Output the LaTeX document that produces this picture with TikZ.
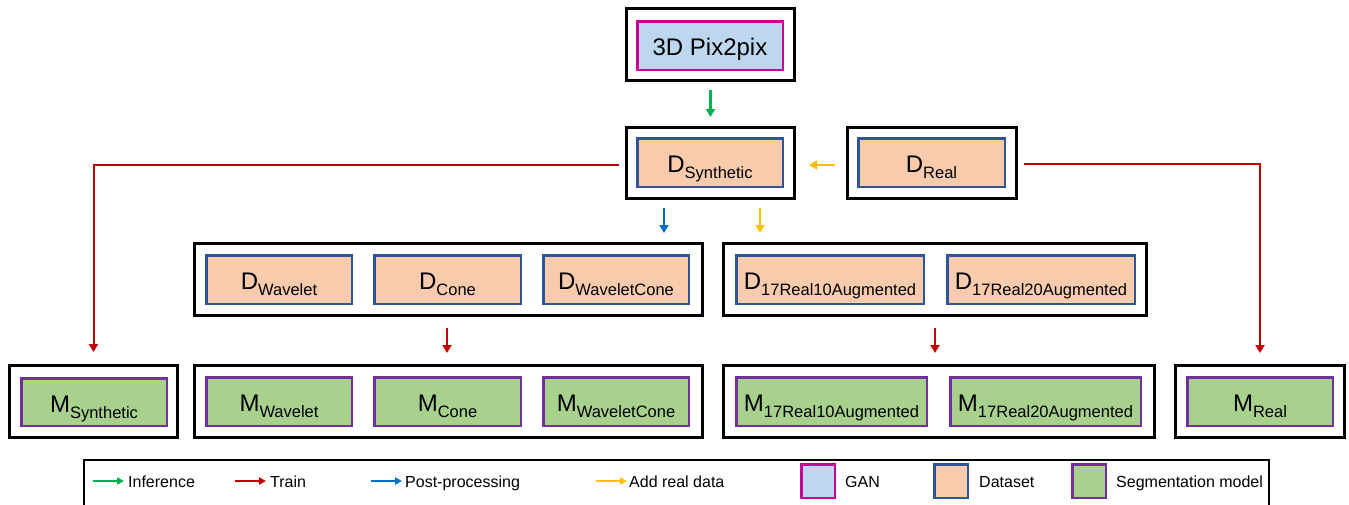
\documentclass[tikz,border=0pt]{standalone}
\usepackage{fontspec}
\setmainfont{Liberation Sans}
\usetikzlibrary{arrows.meta}
\definecolor{ganfill}{HTML}{BDD7EE}
\definecolor{ganedge}{HTML}{CC0099}
\definecolor{dsfill}{HTML}{F8CBAD}
\definecolor{dsedge}{HTML}{2F5597}
\definecolor{segfill}{HTML}{A9D18E}
\definecolor{segedge}{HTML}{7030A0}
\definecolor{cgreen}{HTML}{00B050}
\definecolor{cred}{HTML}{C00000}
\definecolor{cblue}{HTML}{0070C0}
\definecolor{cyellow}{HTML}{FFC000}
\newcommand\lowtxt[1]{\raisebox{-6pt}{\fontsize{16.5}{18}\selectfont #1}}
\tikzset{
  outerbox/.style={draw=black, line width=2.6pt, rectangle, minimum height=72.4pt, inner sep=0pt},
  innerbox/.style={rectangle, line width=2.5pt, minimum height=48.5pt, minimum width=145.5pt,
     inner sep=0pt, text height=22pt, text depth=2pt, font=\fontsize{24}{28}\selectfont},
  ganbox/.style={innerbox, draw=ganedge, fill=ganfill},
  dsbox/.style={innerbox, draw=dsedge, fill=dsfill},
  segbox/.style={innerbox, draw=segedge, fill=segfill},
  arr/.style={line width=2.2pt, -{Triangle[width=9pt,length=8pt]}},
  inferarr/.style={arr, draw=cgreen, color=cgreen},
  trainarr/.style={arr, draw=cred, color=cred},
  postarr/.style={arr, draw=cblue, color=cblue},
  addarr/.style={arr, draw=cyellow, color=cyellow},
  legarr/.style={line width=2pt, -{Triangle[width=7pt,length=7pt]}},
  legtext/.style={anchor=base west, inner sep=0pt, font=\fontsize{16}{18}\selectfont},
  legbox/.style={rectangle, line width=2.5pt, minimum width=33.5pt, minimum height=33.5pt, inner sep=0pt},
}
\begin{document}
\begin{tikzpicture}[x=1pt,y=-1pt]
\useasboundingbox (0,0) rectangle (1349,504);
% outer boxes
\node[outerbox, minimum width=168.4pt] (pixO) at (710.5,44.5) {};
\node[outerbox, minimum width=168.4pt, minimum height=71.4pt] (dsynO) at (710.5,163) {};
\node[outerbox, minimum width=169.4pt, minimum height=71.4pt] (drealO) at (932,163) {};
\node[outerbox, minimum width=508.4pt] (d2lO) at (448.5,279.5) {};
\node[outerbox, minimum width=423.4pt] (d2rO) at (935,279.5) {};
\node[outerbox, minimum width=168.4pt] (msynO) at (93.5,401.5) {};
\node[outerbox, minimum width=508.4pt] (m3lO) at (448.5,401.5) {};
\node[outerbox, minimum width=431.4pt] (m3rO) at (939,401.5) {};
\node[outerbox, minimum width=169.4pt] (mrealO) at (1260,401.5) {};
% inner boxes
\node[ganbox] (pix) at (710,45.5) {3D Pix2pix};
\node[dsbox] (dsyn) at (710,162.5) {D\lowtxt{Synthetic}};
\node[dsbox, minimum width=146.5pt] (dreal) at (931.5,162.5) {D\lowtxt{Real}};
\node[dsbox] (dwav) at (279,279.5) {D\lowtxt{Wavelet}};
\node[dsbox, minimum width=146.5pt] (dcone) at (447.5,279.5) {D\lowtxt{Cone}};
\node[dsbox] (dwc) at (616,279.5) {D\lowtxt{WaveletCone}};
\node[dsbox, minimum width=187.5pt] (d17a) at (830,279.5) {D\lowtxt{17Real10Augmented}};
\node[dsbox, minimum width=187.5pt] (d17b) at (1041,279.5) {D\lowtxt{17Real20Augmented}};
\node[segbox, minimum height=47.5pt] (msyn) at (94,402) {M\lowtxt{Synthetic}};
\node[segbox] (mwav) at (279,401.5) {M\lowtxt{Wavelet}};
\node[segbox, minimum width=146.5pt] (mcone) at (447.5,401.5) {M\lowtxt{Cone}};
\node[segbox] (mwc) at (616,401.5) {M\lowtxt{WaveletCone}};
\node[segbox, minimum width=190.5pt] (m17a) at (831.5,401.5) {M\lowtxt{17Real10Augmented}};
\node[segbox, minimum width=190.5pt] (m17b) at (1045.5,401.5) {M\lowtxt{17Real20Augmented}};
\node[segbox] (mreal) at (1260,401.5) {M\lowtxt{Real}};
% connectors
\draw[inferarr, shorten <=8pt, shorten >=9pt] (pixO.south) -- (dsynO.north);
\draw[addarr, shorten <=11pt, shorten >=13pt] ([yshift=-2pt]drealO.west) -- ([yshift=-2pt]dsynO.east);
\draw[trainarr, line width=2pt, shorten >=12pt] ([xshift=-6pt,yshift=-2pt]dsynO.west) -| (msynO.north);
\draw[trainarr, line width=2pt, shorten >=11pt] ([xshift=6pt,yshift=-1pt]drealO.east) -| (mrealO.north);
\coordinate (bx) at (664,0);
\coordinate (yx) at (760,0);
\draw[postarr, shorten <=8pt, shorten >=9pt] (dsynO.south -| bx) -- (d2lO.north -| bx);
\draw[addarr, shorten <=8pt, shorten >=9pt] (dsynO.south -| yx) -- (d2rO.north -| yx);
\coordinate (rl) at (447,0);
\draw[trainarr, shorten <=11pt, shorten >=11pt] (d2lO.south -| rl) -- (m3lO.north -| rl);
\draw[trainarr, shorten <=11pt, shorten >=11pt] (d2rO.south) -- (d2rO.south |- m3rO.north);
% legend
\draw[line width=2pt] (84,506) -- (84,460) -- (1269,460) -- (1269,506);
\coordinate (l1a) at (93,481); \coordinate (l1b) at (124,481);
\coordinate (l2a) at (235,481); \coordinate (l2b) at (266,481);
\coordinate (l3a) at (371,481); \coordinate (l3b) at (402,481);
\coordinate (l4a) at (596,481); \coordinate (l4b) at (627,481);
\draw[legarr, draw=cgreen, color=cgreen] (l1a) -- (l1b);
\draw[legarr, draw=cred, color=cred] (l2a) -- (l2b);
\draw[legarr, draw=cblue, color=cblue] (l3a) -- (l3b);
\draw[legarr, draw=cyellow, color=cyellow] (l4a) -- (l4b);
\node[legtext] (t1) at (128,487) {Inference};
\node[legtext] (t2) at (270,487) {Train};
\node[legtext] (t3) at (405,487) {Post-processing};
\node[legtext] (t4) at (629,487) {Add real data};
\node[legbox, draw=ganedge, fill=ganfill] (lg1) at (818,481) {};
\node[legbox, draw=dsedge, fill=dsfill] (lg2) at (951,481) {};
\node[legbox, draw=segedge, fill=segfill] (lg3) at (1089,481) {};
\node[legtext] (t5) at (845,487) {GAN};
\node[legtext] (t6) at (979,487) {Dataset};
\node[legtext] (t7) at (1116,487) {Segmentation model};
\end{tikzpicture}
\end{document}
